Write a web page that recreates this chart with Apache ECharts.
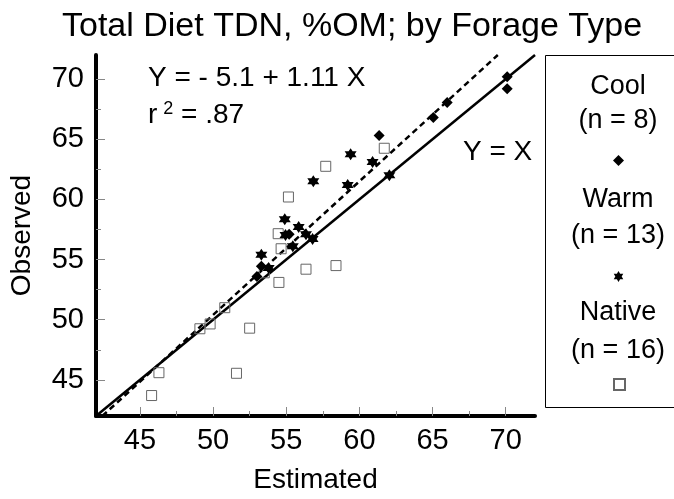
<!DOCTYPE html>
<html>
<head>
<meta charset="utf-8">
<script src="https://cdn.jsdelivr.net/npm/echarts@6/dist/echarts.min.js"></script>
<style>
  html, body { margin: 0; padding: 0; background: #fff; }
  #chart { width: 674px; height: 499px; }
</style>
</head>
<body>
<div id="chart"></div>
<script>
// Estimated vs observed TDN (%OM), grouped by forage type: [estimated, observed]
const coolPoints = [
  [70.1, 70.2], [70.1, 69.2], [66.0, 68.05], [65.05, 66.8],
  [61.35, 65.3], [53.3, 54.45], [53.0, 53.6], [55.2, 57.1]
];
const warmPoints = [
  [59.4, 63.75], [60.9, 63.1], [56.85, 61.5], [59.2, 61.2], [62.05, 62.0],
  [54.9, 58.35], [55.85, 57.7], [56.35, 57.1], [56.8, 56.7], [55.45, 56.1],
  [53.3, 55.4], [53.8, 54.3], [54.95, 57.05]
];
const nativePoints = [
  [45.8, 43.7], [46.3, 45.6], [49.1, 49.25], [49.8, 49.65], [50.8, 51.0],
  [52.5, 49.3], [51.6, 45.55], [54.5, 53.1], [56.35, 54.2], [58.4, 54.5],
  [54.65, 55.9], [54.45, 57.15], [55.15, 60.2], [57.7, 62.75], [61.7, 64.25],
  [53.5, 53.9]
];

// Fitted regression: Observed = intercept + slope * Estimated
const regIntercept = -5.1;
const regSlope = 1.11;
const rSquared = '.87';

const axisMin = 42;
const axisMax = 72;
const majorTicks = [45, 50, 55, 60, 65, 70];
const minorTicks = [47.5, 52.5, 57.5, 62.5, 67.5];

const seriesNames = ['Cool', 'Warm', 'Native'];
const seriesCounts = [8, 13, 16];

// Regression segment clipped to the plotting square
const regLo = Math.max(axisMin, (axisMin - regIntercept) / regSlope);
const regHi = Math.min(axisMax, (axisMax - regIntercept) / regSlope);
const regLine = [
  [regLo, regIntercept + regSlope * regLo],
  [regHi, regIntercept + regSlope * regHi]
];
const identityLine = [[axisMin, axisMin], [axisMax, axisMax]];

const FONT = '"Liberation Sans", Arial, sans-serif';
const STAR = 'path://M0,-10 L2.887,-5 L8.66,-5 L5.774,0 L8.66,5 L2.887,5 L0,10 L-2.887,5 L-8.66,5 L-5.774,0 L-8.66,-5 L-2.887,-5 Z';

const chart = echarts.init(document.getElementById('chart'), null, { renderer: 'canvas' });

function valueAxis(extra) {
  return Object.assign({
    type: 'value',
    min: axisMin,
    max: axisMax,
    splitLine: { show: false },
    axisLine: { show: true, lineStyle: { color: '#000', width: 4 } }
  }, extra);
}

const legendTop = [155, 271, 378];
const legendIcons = ['diamond', STAR, 'rect'];

chart.setOption({
  backgroundColor: '#fff',
  animation: false,
  title: {
    text: 'Total Diet TDN, %OM; by Forage Type',
    left: 57,
    top: 5,
    textStyle: { fontFamily: FONT, fontSize: 34, fontWeight: 'normal', color: '#000' }
  },
  grid: { left: 96, top: 55, width: 439, height: 368 },
  legend: seriesNames.map((n, i) => ({
    data: [{ name: n, icon: legendIcons[i] }],
    left: 613,
    top: legendTop[i],
    padding: 0,
    itemWidth: 11,
    itemHeight: 11,
    selectedMode: false,
    formatter: () => '',
    textStyle: { fontSize: 1 }
  })),
  xAxis: [
    valueAxis({
      name: 'Estimated',
      nameLocation: 'middle',
      nameGap: 50,
      nameTextStyle: { fontFamily: FONT, fontSize: 28, color: '#000' },
      axisTick: { show: true, inside: true, length: 9, customValues: majorTicks, lineStyle: { color: '#888', width: 1 } },
      axisLabel: { customValues: majorTicks, margin: 10, fontFamily: FONT, fontSize: 29, color: '#000' }
    }),
    valueAxis({
      position: 'bottom',
      axisLine: { show: false },
      axisTick: { show: true, inside: true, length: 5, customValues: minorTicks, lineStyle: { color: '#888', width: 1 } },
      axisLabel: { show: false, customValues: minorTicks }
    })
  ],
  yAxis: [
    valueAxis({
      name: 'Observed',
      nameLocation: 'middle',
      nameGap: 60,
      nameTextStyle: { fontFamily: FONT, fontSize: 28, color: '#000' },
      axisTick: { show: true, inside: true, length: 9, customValues: majorTicks, lineStyle: { color: '#888', width: 1 } },
      axisLabel: { customValues: majorTicks, margin: 12, fontFamily: FONT, fontSize: 29, color: '#000' }
    }),
    valueAxis({
      position: 'left',
      axisLine: { show: false },
      axisTick: { show: true, inside: true, length: 5, customValues: minorTicks, lineStyle: { color: '#888', width: 1 } },
      axisLabel: { show: false, customValues: minorTicks }
    })
  ],
  series: [
    {
      name: 'Y = X',
      type: 'line',
      data: identityLine,
      symbol: 'none',
      silent: true,
      lineStyle: { color: '#000', width: 2.5 },
      z: 1
    },
    {
      name: 'Regression',
      type: 'line',
      data: regLine,
      symbol: 'none',
      silent: true,
      lineStyle: { color: '#000', width: 2.5, type: [6, 4] },
      z: 1
    },
    {
      name: 'Native',
      type: 'scatter',
      data: nativePoints,
      symbol: 'rect',
      symbolSize: 10,
      itemStyle: { color: 'rgba(255,255,255,0)', borderColor: '#666', borderWidth: 1, opacity: 1 },
      z: 3
    },
    {
      name: 'Warm',
      type: 'scatter',
      data: warmPoints,
      symbol: STAR,
      symbolSize: 12,
      itemStyle: { color: '#000', opacity: 1 },
      z: 4
    },
    {
      name: 'Cool',
      type: 'scatter',
      data: coolPoints,
      symbol: 'diamond',
      symbolSize: 11,
      itemStyle: { color: '#000', opacity: 1 },
      z: 5
    }
  ],
  graphic: [
    {
      type: 'text', left: 148, top: 64,
      style: {
        text: 'Y = - ' + Math.abs(regIntercept) + ' + ' + regSlope + ' X',
        font: '28px ' + FONT, fill: '#000'
      }
    },
    {
      type: 'text', left: 148, top: 100,
      style: {
        text: '{a|r}{s|2}{a| = ' + rSquared + '}',
        fill: '#000',
        rich: {
          a: { font: '28px ' + FONT, fill: '#000' },
          s: { font: '18px ' + FONT, fill: '#000', padding: [0, 0, 12, 6] }
        }
      }
    },
    {
      type: 'text', left: 463, top: 138,
      style: { text: 'Y = X', font: '28px ' + FONT, fill: '#000' }
    },
    {
      type: 'rect',
      shape: { x: 545.5, y: 55.5, width: 140, height: 352 },
      style: { fill: 'none', stroke: '#000', lineWidth: 1 },
      z: -1
    },
    ...seriesNames.flatMap((n, i) => [
      {
        type: 'text', x: 618, y: 87 + i * 113,
        style: { text: n, font: '27px ' + FONT, fill: '#000', align: 'center', verticalAlign: 'middle' }
      },
      {
        type: 'text', x: 618, y: 121 + i * 115,
        style: { text: '(n = ' + seriesCounts[i] + ')', font: '27px ' + FONT, fill: '#000', align: 'center', verticalAlign: 'middle' }
      }
    ])
  ]
});
</script>
</body>
</html>
